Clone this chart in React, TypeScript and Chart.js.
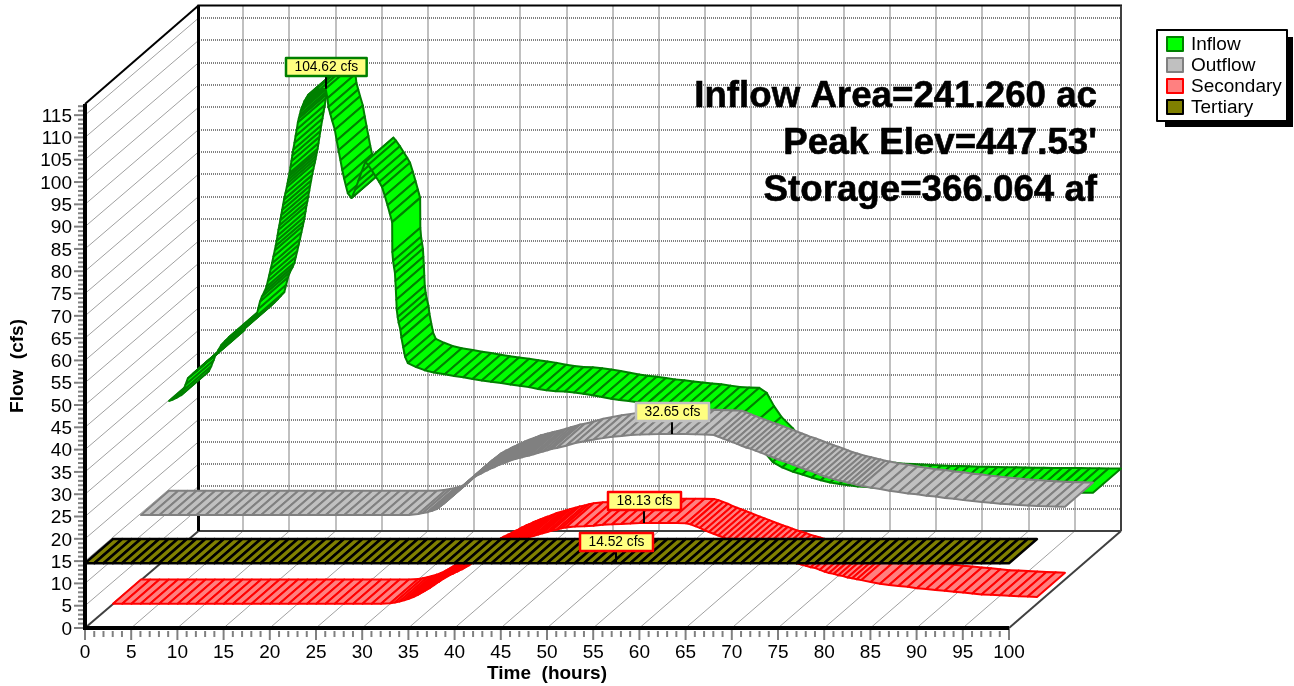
import React, { useEffect, useRef } from "react";
import { Chart, registerables } from "chart.js";

Chart.register(...registerables);

const INFLOW_TIME = [
  0, 0.4, 0.8, 1.3, 1.55, 1.8, 2.05, 2.35, 2.65, 3, 3.35, 3.7, 4.05, 4.5, 5.05, 5.35, 5.65, 6.05, 6.45, 6.85, 7.25, 7.65, 8.05, 8.4, 8.75,
  9.1, 9.45, 9.65, 9.85, 10.05, 10.35, 10.55, 10.7, 10.85, 11, 11.15, 11.3, 11.45, 11.55, 11.65, 11.75, 11.85, 11.95, 12.05, 12.15, 12.25,
  12.35, 12.45, 12.6, 12.75, 12.83, 12.9, 12.98, 13.05, 13.15, 13.25, 13.35, 13.45, 13.58, 13.7, 13.83, 13.95, 14.05, 14.15, 14.25, 14.35,
  14.5, 14.65, 14.85, 15.05, 15.45, 15.85, 16.35, 16.95, 17.15, 17.25, 17.45, 17.65, 17.95, 18.15, 18.35, 18.55, 18.75, 18.95, 19.15, 19.35,
  19.75, 20.15, 20.5, 20.85, 21.25, 21.55, 21.95, 22.35, 22.75, 23.05, 23.35, 23.65, 23.9, 24.15, 24.17, 24.25, 24.35, 24.45, 24.5, 24.55,
  24.6, 24.65, 24.75, 24.85, 25.05, 25.15, 25.35, 25.55, 25.85, 26.75, 27.65, 28.65, 29.85, 30.85, 31.85, 32.85, 33.85, 34.85, 35.95, 36.95,
  37.95, 38.95, 39.95, 40.85, 41.85, 42.85, 43.85, 44.85, 45.85, 46.85, 47.85, 48.75, 49.75, 50.75, 51.75, 52.75, 53.75, 54.75, 55.75, 56.75,
  57.75, 58.75, 59.75, 60.85, 61.65, 62.45, 63.25, 64.45, 65.35, 66.35, 67.55, 68.55, 69.55, 70.55, 71.55, 72.55, 73.55, 74.55, 75.55, 76.55,
  77.55, 78.55, 79.55, 80.55, 81.55, 82.55, 83.55, 84.65, 85.65, 86.65, 87.65, 88.65, 89.65, 90.65, 91.65, 92.65, 93.65, 94.65, 95.65, 96.65,
  97.65, 98.65, 100,
];
const INFLOW_CFS = [
  34.6, 34.9, 35.3, 35.9, 37, 38.3, 39.7, 40.2, 40.8, 41.4, 42, 42.6, 43.3, 44, 44.9, 46, 47.1, 48, 48.8, 49.3, 49.7, 50.2, 50.6, 51.3, 52,
  52.8, 53.6, 55.2, 56.9, 58, 59.2, 60.2, 61.5, 62.8, 64.2, 65.5, 67, 68.4, 69.4, 70.5, 71.7, 73, 74, 75.2, 76.3, 77.5,
  78.6, 79.8, 81.2, 82.6, 83.4, 84.2, 85, 85.7, 87, 88.4, 89.7, 91, 92.5, 94, 95.5, 97.1, 98, 98.8, 99.6, 100.3,
  101, 101.8, 102.5, 103.2, 103.8, 104.3, 104.5, 104.62, 102.5, 100.5, 99, 97.5, 95.4, 93, 90.8, 88.6, 86.4, 84.5, 82.8, 81.2,
  80.1, 82, 84, 86, 88.2, 87.5, 86.3, 85, 83.7, 82.6, 80.6, 78.5, 76.6, 74.7, 68, 66, 64.6, 63.3, 61.5, 59.6,
  57.3, 55, 53.4, 52.2, 50.5, 48.8, 46.6, 44.5, 43.1, 42.2, 41.5, 41, 40.6, 40.2, 39.9, 39.5, 39.2, 38.9, 38.6, 38.3,
  38, 37.7, 37.3, 37, 36.8, 36.7, 36.5, 36.2, 35.9, 35.5, 35.1, 34.8, 34.6, 34.3, 34, 33.8, 33.5, 33.3, 33.1, 32.9,
  32.6, 32.3, 32.2, 32.1, 31, 28, 25.6, 23.1, 20.9, 19.7, 18.7, 18.1, 17.4, 16.8, 16.3, 16, 15.7, 15.4, 15.3, 15.1,
  15, 14.9, 14.8, 14.7, 14.6, 14.55, 14.5, 14.4, 14.4, 14.35, 14.3, 14.3, 14.25, 14.2, 14.2, 14.15, 14.15, 14.1, 14.1, 14.05,
  14.05, 14, 14,
];

const OUTFLOW_TIME = [
  0, 1, 2, 3, 4, 5, 6, 7, 8, 9, 10, 11, 12, 13, 14, 15, 16, 17, 18, 19, 20, 21, 22, 23, 24, 25, 26, 27, 28, 29, 30, 30.5, 31, 31.5, 32,
  32.25, 32.5, 32.75, 33, 33.25, 33.5, 33.75, 34, 34.25, 34.5, 34.75, 35, 35.25, 35.5, 35.75, 36, 36.25, 36.5, 36.75, 37, 37.25, 37.5, 37.75,
  38, 38.25, 38.5, 38.75, 39, 39.25, 39.5, 39.75, 40, 40.25, 40.5, 40.75, 41, 41.25, 41.5, 41.75, 42, 42.5, 43, 43.5, 44, 44.5, 45, 46, 47,
  48, 49, 50, 51, 52, 53, 54, 55, 56, 57, 58, 59, 60, 61, 62, 62.5, 63, 63.5, 64, 64.5, 65, 65.5, 66, 66.5, 67, 67.5, 68, 68.5, 69, 69.5,
  70, 70.5, 71, 71.5, 72, 72.5, 73, 73.5, 74, 74.5, 75, 75.5, 76, 76.5, 77, 77.5, 78, 79, 80, 81, 82, 83, 84, 85, 86, 87, 88, 89, 90, 91,
  92, 93, 94, 95, 96, 97, 98, 99, 100,
];
const OUTFLOW_CFS = [
  14.45, 14.45, 14.45, 14.45, 14.45, 14.45, 14.45, 14.45, 14.45, 14.45, 14.45, 14.45, 14.45, 14.45, 14.45, 14.45, 14.45, 14.45, 14.45, 14.45,
  14.45, 14.45, 14.45, 14.45, 14.45, 14.45, 14.45, 14.45, 14.45, 14.45, 14.7, 14.9, 15.1, 15.4, 15.8,
  16.2, 16.6, 17, 17.5, 18, 18.5, 18.9, 19.4, 19.9, 20.3, 20.8, 21.3, 21.7, 22.1, 22.5, 22.9, 23.2, 23.5, 23.7, 24, 24.3, 24.5, 24.8,
  25, 25.2, 25.5, 25.7, 25.9, 26.1, 26.3, 26.5, 26.7, 26.9, 27, 27.2, 27.3, 27.4, 27.6, 27.7, 27.8, 28.1, 28.4, 28.7, 29, 29.3, 29.5, 30, 30.6,
  31, 31.4, 31.7, 32, 32.2, 32.4, 32.5, 32.55, 32.6, 32.65, 32.65, 32.6, 32.55, 32.5, 32.4, 32, 31.6, 31.2, 30.8, 30.4, 30, 29.6, 29.3, 28.9, 28.5, 28.1, 27.7, 27.3, 26.9, 26.5,
  26.2, 25.8, 25.4, 25, 24.6, 24.3, 23.9, 23.5, 23.1, 22.8, 22.5, 22.2, 22, 21.7, 21.5, 21.2, 21, 20.6, 20.3, 19.9, 19.6, 19.3, 19.1, 18.8, 18.6, 18.3, 18.1, 17.8, 17.6, 17.4,
  17.2, 17, 16.9, 16.7, 16.6, 16.5, 16.4, 16.35, 16.3,
];

const SECONDARY_TIME = [
  0, 1, 2, 3, 4, 5, 6, 7, 8, 9, 10, 11, 12, 13, 14, 15, 16, 17, 18, 19, 20, 21, 22, 23, 24, 25, 26, 27, 28, 29, 30, 30.5, 31, 31.5, 32, 32.5,
  33, 33.25, 33.5, 33.75, 34, 34.25, 34.5, 34.75, 35, 35.25, 35.5, 35.75, 36, 36.25, 36.5, 36.75, 37, 37.25, 37.5, 37.75, 38, 38.25, 38.5, 38.75,
  39, 39.25, 39.5, 39.75, 40, 40.25, 40.5, 40.75, 41, 41.25, 41.5, 41.75, 42, 42.25, 42.5, 42.75, 43, 43.25, 43.5, 43.75, 44, 44.5, 45, 45.5,
  46, 46.5, 47, 47.5, 48, 48.5, 49, 50, 51, 52, 53, 54, 55, 56, 57, 58, 59, 60, 61, 62, 62.5, 63, 63.5, 64, 64.5, 65, 65.5, 66, 66.5, 67, 67.5,
  68, 68.5, 69, 69.5, 70, 70.5, 71, 71.5, 72, 72.5, 73, 73.5, 74, 74.5, 75, 75.5, 76, 76.5, 77, 77.5, 78, 78.5, 79, 79.5, 80, 80.5, 81, 82, 83,
  84, 85, 86, 87, 88, 89, 90, 91, 92, 93, 94, 95, 96, 97, 98, 99, 100,
];
const SECONDARY_CFS = [
  0, 0, 0, 0, 0, 0, 0, 0, 0, 0, 0, 0, 0, 0, 0, 0, 0, 0, 0, 0, 0, 0, 0, 0, 0, 0, 0, 0, 0, 0, 0.1, 0.3, 0.5, 0.8, 1.1, 1.5,
  2, 2.3, 2.6, 2.9, 3.2, 3.5, 3.9, 4.2, 4.6, 4.9, 5.3, 5.6, 5.9, 6.2, 6.5, 6.7, 7, 7.2, 7.5, 7.7, 8, 8.3, 8.6, 9,
  9.3, 9.6, 9.8, 10.1, 10.3, 10.6, 10.9, 11.1, 11.4, 11.7, 11.9, 12.2, 12.4, 12.6, 12.9, 13.1, 13.3, 13.5, 13.7, 13.9, 14.1, 14.5, 14.9, 15.2,
  15.5, 15.8, 16.1, 16.4, 16.6, 16.9, 17.1, 17.3, 17.4, 17.5, 17.7, 17.8, 17.9, 18, 18.1, 18.13, 18.13, 18.12, 18.1, 18.05, 17.8, 17.4, 17, 16.5, 16.1, 15.7, 15.3, 14.9, 14.5, 14.1, 13.7,
  13.3, 12.9, 12.5, 12.1, 11.8, 11.4, 11, 10.7, 10.4, 10, 9.7, 9.4, 9.1, 8.8, 8.5, 8.2, 8, 7.6, 7.2, 6.9, 6.7, 6.4, 6.2, 5.9, 5.7, 5.5, 5.3, 4.9, 4.5,
  4.2, 4, 3.8, 3.5, 3.3, 3.1, 2.9, 2.7, 2.5, 2.3, 2.1, 2, 1.9, 1.8, 1.7, 1.6, 1.5,
];

const TERTIARY_TIME = [
  0, 1, 2, 3, 4, 5, 6, 7, 8, 9, 10, 11, 12, 13, 14, 15, 16, 17, 18, 19, 20, 21, 22, 23, 24, 25, 26, 27, 28, 29, 30, 31, 32, 33,
  34, 35, 36, 37, 38, 39, 40, 41, 42, 43, 44, 45, 46, 47, 48, 49, 50, 51, 52, 53, 54, 55, 56, 57, 58, 59, 60, 61, 62, 63, 64, 65,
  66, 67, 68, 69, 70, 71, 72, 73, 74, 75, 76, 77, 78, 79, 80, 81, 82, 83, 84, 85, 86, 87, 88, 89, 90, 91, 92, 93, 94, 95, 96, 97,
  98, 99, 100,
];
const TERTIARY_CFS = [
  14.52, 14.52, 14.52, 14.52, 14.52, 14.52, 14.52, 14.52, 14.52, 14.52, 14.52, 14.52, 14.52, 14.52, 14.52, 14.52, 14.52, 14.52, 14.52,
  14.52, 14.52, 14.52, 14.52, 14.52, 14.52, 14.52, 14.52, 14.52, 14.52, 14.52, 14.52, 14.52, 14.52, 14.52, 14.52, 14.52, 14.52, 14.52,
  14.52, 14.52, 14.52, 14.52, 14.52, 14.52, 14.52, 14.52, 14.52, 14.52, 14.52, 14.52, 14.52, 14.52, 14.52, 14.52, 14.52, 14.52, 14.52,
  14.52, 14.52, 14.52, 14.52, 14.52, 14.52, 14.52, 14.52, 14.52, 14.52, 14.52, 14.52, 14.52, 14.52, 14.52, 14.52, 14.52, 14.52, 14.52,
  14.52, 14.52, 14.52, 14.52, 14.52, 14.52, 14.52, 14.52, 14.52, 14.52, 14.52, 14.52, 14.52, 14.52, 14.52, 14.52, 14.52, 14.52, 14.52,
  14.52, 14.52, 14.52, 14.52, 14.52, 14.52,
];

const SERIES_NAMES = ["Inflow", "Outflow", "Secondary", "Tertiary"];
const SERIES_FILLS = ["#00ff00", "#c0c0c0", "#ff8080", "#808000"];
const SERIES_EDGES = ["#008000", "#808080", "#ff0000", "#000000"];
const PEAK_HOURS = [16.95, 57.5, 57.5, 57.5];
const PEAK_LABELS = ["104.62 cfs", "32.65 cfs", "18.13 cfs", "14.52 cfs"];
const PEAK_VALUES = [104.62, 32.65, 18.13, 14.52];
const PEAK_BORDERS = ["#008000", "#c0c0c0", "#ff0000", "#ff0000"];
const NOTES = ["Inflow Area=241.260 ac", "Peak Elev=447.53'", "Storage=366.064 af"];

const FONT = "'Liberation Sans', Arial, sans-serif";
const DEPTH_X = 112;
const DEPTH_Y = 97;
const SLOTS = 4;

const zip = (xs: number[], ys: number[]) => xs.map((x, i) => ({ x, y: ys[i] }));

const scene = {
  id: "scene",
  beforeDatasetsDraw(chart: any) {
    const { ctx, scales, chartArea: a } = chart;
    const sx = scales.x;
    const sy = scales.y;
    const line = (x1: number, y1: number, x2: number, y2: number) => {
      ctx.beginPath();
      ctx.moveTo(x1, y1);
      ctx.lineTo(x2, y2);
      ctx.stroke();
    };
    const wallLeft = a.left + DEPTH_X + 1.5;
    const wallRight = a.right + DEPTH_X;
    const wallTop = a.top - DEPTH_Y - 1.5;
    const wallBottom = a.bottom - DEPTH_Y;
    ctx.save();
    ctx.lineCap = "butt";

    // back wall grid, snapped to whole pixels so the dots stay crisp
    ctx.strokeStyle = "#c0c0c0";
    ctx.lineWidth = 2;
    for (let t = 5; t <= 100; t += 5) {
      const x = Math.round(sx.getPixelForValue(t) + DEPTH_X);
      line(x, wallBottom, x, wallTop);
    }
    ctx.strokeStyle = "#808080";
    ctx.lineWidth = 2;
    ctx.setLineDash([1, 1]);
    for (let v = 5; v <= 115; v += 5) {
      const y = Math.round(sy.getPixelForValue(v) - DEPTH_Y);
      line(Math.round(wallLeft), y, Math.round(wallRight), y);
    }
    ctx.setLineDash([]);

    // side wall and floor rails
    ctx.strokeStyle = "#a0a0a0";
    ctx.lineWidth = 1;
    for (let v = 5; v <= 115; v += 5) {
      const y = sy.getPixelForValue(v);
      line(a.left, y, wallLeft, y - DEPTH_Y);
    }
    for (let t = 5; t < 100; t += 5) {
      const x = sx.getPixelForValue(t);
      line(x, a.bottom, x + DEPTH_X, wallBottom);
    }

    // frame
    ctx.strokeStyle = "#000";
    ctx.lineWidth = 2;
    line(a.left, a.top, wallLeft, wallTop);
    line(wallLeft - 1, wallTop, wallRight + 1, wallTop);
    ctx.strokeStyle = "#404040";
    line(wallRight, wallTop, wallRight, wallBottom);
    line(wallLeft, wallBottom, wallRight, wallBottom);
    line(a.right, a.bottom, wallRight, wallBottom);
    line(a.left, a.bottom, wallLeft, wallBottom);
    ctx.strokeStyle = "#000";
    ctx.lineWidth = 3;
    line(wallLeft, wallTop, wallLeft, wallBottom);

    // tick marks
    ctx.strokeStyle = "#808080";
    ctx.lineWidth = 2;
    for (let t = 0; t <= 100; t++) {
      const x = sx.getPixelForValue(t);
      if (t % 5 === 0) line(x, a.bottom, x, a.bottom + 12);
      else line(x, a.bottom + 3, x, a.bottom + 9);
    }
    for (let v = 0; v <= 117; v++) {
      const y = sy.getPixelForValue(v);
      if (v % 5 === 0) line(a.left, y, a.left - 11, y);
      else line(a.left, y, a.left - 7, y);
    }

    // front axes
    ctx.strokeStyle = "#000";
    ctx.lineWidth = 4;
    line(a.left, a.top, a.left, a.bottom + 2);
    line(a.left - 2, a.bottom, a.right, a.bottom);

    // notes
    ctx.fillStyle = "#000";
    ctx.strokeStyle = "#000";
    ctx.lineWidth = 0.6;
    ctx.font = `bold 36.7px ${FONT}`;
    ctx.textAlign = "right";
    ctx.textBaseline = "alphabetic";
    NOTES.forEach((s, i) => {
      ctx.fillText(s, 1097, 106.5 + i * 47);
      ctx.strokeText(s, 1097, 106.5 + i * 47);
    });

    // ribbons, each quad painted over the previous one
    ctx.lineJoin = "round";
    chart.data.datasets.forEach((ds: any, i: number) => {
      const slot = SLOTS - 1 - i;
      const ox = (slot * DEPTH_X) / SLOTS;
      const oy = (slot * DEPTH_Y) / SLOTS;
      const wx = DEPTH_X / SLOTS;
      const wy = DEPTH_Y / SLOTS;
      ctx.fillStyle = SERIES_FILLS[i];
      ctx.strokeStyle = SERIES_EDGES[i];
      ctx.lineWidth = i === 3 ? 2.4 : 2;
      for (let k = 0; k + 1 < ds.data.length; k++) {
        const x1 = sx.getPixelForValue(ds.data[k].x) + ox;
        const y1 = sy.getPixelForValue(ds.data[k].y) - oy;
        const x2 = sx.getPixelForValue(ds.data[k + 1].x) + ox;
        const y2 = sy.getPixelForValue(ds.data[k + 1].y) - oy;
        ctx.beginPath();
        ctx.moveTo(x1, y1);
        ctx.lineTo(x2, y2);
        ctx.lineTo(x2 + wx, y2 - wy);
        ctx.lineTo(x1 + wx, y1 - wy);
        ctx.closePath();
        ctx.fill();
        ctx.stroke();
      }
    });

    // peak callouts
    ctx.font = `13.8px ${FONT}`;
    ctx.textAlign = "center";
    ctx.textBaseline = "middle";
    PEAK_LABELS.forEach((s, i) => {
      const slot = SLOTS - 1 - i;
      const tx = Math.round(sx.getPixelForValue(PEAK_HOURS[i]) + (slot * DEPTH_X) / SLOTS);
      const ty = sy.getPixelForValue(PEAK_VALUES[i]) - (slot * DEPTH_Y) / SLOTS;
      const w = ctx.measureText(s).width + 17;
      const h = 18;
      const bx = Math.round(tx - w / 2);
      const by = Math.round(ty - 12.5 - h);
      ctx.strokeStyle = "#000";
      ctx.lineWidth = 2;
      line(tx, by + h, tx, ty);
      ctx.fillStyle = "#ffff80";
      ctx.strokeStyle = PEAK_BORDERS[i];
      ctx.lineWidth = 2.5;
      ctx.fillRect(bx, by, w, h);
      ctx.strokeRect(bx, by, w, h);
      ctx.fillStyle = "#000";
      ctx.fillText(s, bx + w / 2, by + h / 2 + 0.5);
    });

    // legend
    ctx.fillStyle = "#000";
    ctx.fillRect(1165, 37, 128, 90);
    ctx.fillStyle = "#fff";
    ctx.fillRect(1157, 30, 130, 91);
    ctx.strokeStyle = "#000";
    ctx.lineWidth = 2;
    ctx.strokeRect(1157, 30, 130, 91);
    ctx.font = `19px ${FONT}`;
    ctx.textAlign = "left";
    SERIES_NAMES.forEach((s, i) => {
      const y = 44 + i * 21;
      ctx.fillStyle = SERIES_FILLS[i];
      ctx.strokeStyle = SERIES_EDGES[i];
      ctx.fillRect(1167, y - 7, 16, 14);
      ctx.strokeRect(1167, y - 7, 16, 14);
      ctx.fillStyle = "#000";
      ctx.fillText(s, 1191, y + 1);
    });
    ctx.restore();
  },
};

export default function App() {
  const ref = useRef<HTMLCanvasElement>(null);
  useEffect(() => {
    const chart = new Chart(ref.current as HTMLCanvasElement, {
      type: "scatter",
      data: {
        datasets: [
          { label: SERIES_NAMES[0], data: zip(INFLOW_TIME, INFLOW_CFS) },
          { label: SERIES_NAMES[1], data: zip(OUTFLOW_TIME, OUTFLOW_CFS) },
          { label: SERIES_NAMES[2], data: zip(SECONDARY_TIME, SECONDARY_CFS) },
          { label: SERIES_NAMES[3], data: zip(TERTIARY_TIME, TERTIARY_CFS) },
        ],
      },
      plugins: [scene],
      options: {
        responsive: false,
        animation: false,
        layout: { padding: { top: 104, right: 285, left: 0, bottom: 0 } },
        elements: { point: { radius: 0, hoverRadius: 0 }, line: { borderWidth: 0 } },
        plugins: { legend: { display: false }, tooltip: { enabled: false } },
        scales: {
          x: {
            type: "linear",
            min: 0,
            max: 100,
            afterFit: (s: any) => { s.height = 58; },
            grid: { display: false, drawTicks: false },
            border: { display: false },
            ticks: { stepSize: 5, autoSkip: false, maxRotation: 0, padding: 13, color: "#000", font: { family: FONT, size: 19 } },
            title: { display: true, text: "Time  (hours)", color: "#000", font: { family: FONT, size: 19, weight: "bold" }, padding: { top: 0, bottom: 0.6 } },
          },
          y: {
            type: "linear",
            min: 0,
            max: 117.5,
            afterFit: (s: any) => { s.width = 85; },
            grid: { display: false, drawTicks: false },
            border: { display: false },
            ticks: { stepSize: 5, autoSkip: false, includeBounds: false, padding: 13, labelOffset: 1.5, color: "#000", font: { family: FONT, size: 19 } },
            title: { display: true, text: "Flow  (cfs)", color: "#000", font: { family: FONT, size: 19, weight: "bold" }, padding: { top: 6.6, bottom: 0 } },
          },
        },
      },
    } as any);
    return () => chart.destroy();
  }, []);
  return (
    <div style={{ position: "absolute", left: 0, top: 0, width: 1294, height: 686, background: "#fff" }}>
      <canvas ref={ref} width={1294} height={686} style={{ display: "block" }} />
    </div>
  );
}
